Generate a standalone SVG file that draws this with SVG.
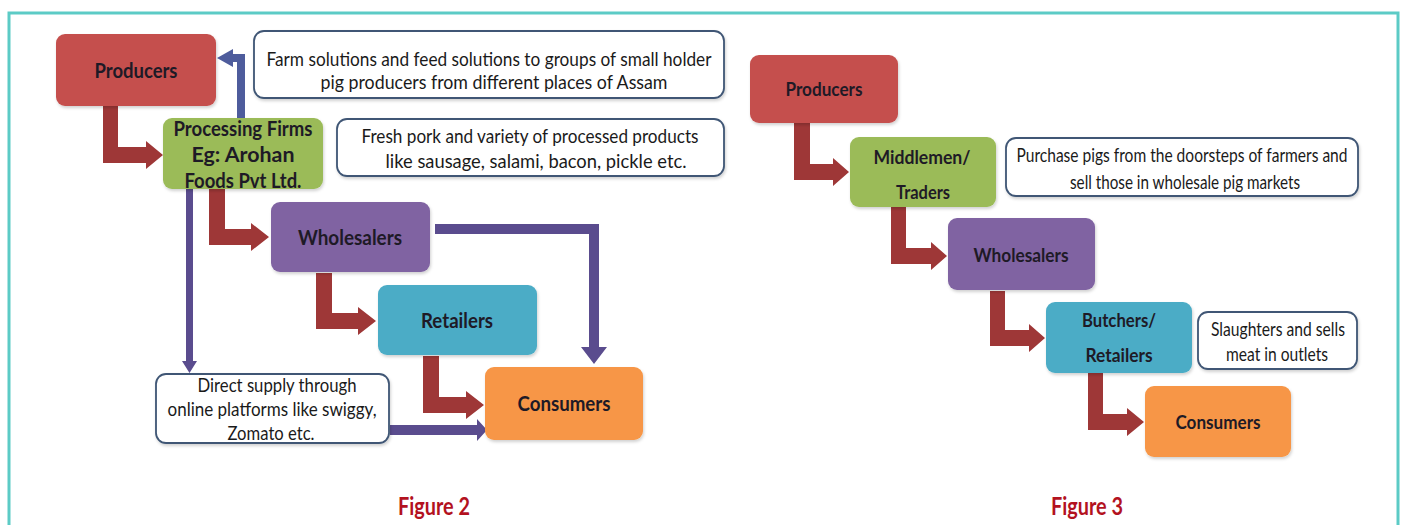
<svg xmlns="http://www.w3.org/2000/svg" width="1405" height="525" viewBox="0 0 1405 525">
<defs>
<style>
.lbl{font-family:Lato,"Open Sans","Liberation Sans",sans-serif;font-weight:bold;fill:#1e1a26;text-anchor:middle}
.l2{font-size:21px}
.l3{font-size:19px}
.call{fill:#ffffff;stroke:#3f5675;stroke-width:1.8}
.ct{font-family:Lato,"Open Sans","Liberation Sans",sans-serif;font-size:19px;fill:#1a1a1a;text-anchor:middle}
.red{fill:#9e3737}
.blu{fill:#5a4c8e}
.blu2{fill:#4e5c9c}
.fig{font-family:Lato,"Open Sans","Liberation Sans",sans-serif;font-size:24px;font-weight:bold;fill:#b3121f;text-anchor:middle}
.shadow{filter:url(#sh)}
</style>
<filter id="sh" x="-10%" y="-10%" width="130%" height="140%">
<feDropShadow dx="1" dy="2" stdDeviation="1.5" flood-color="#000" flood-opacity="0.18"/>
</filter>
</defs>
<rect x="0" y="0" width="1405" height="525" fill="#ffffff"/>
<rect x="9" y="13" width="1389" height="540" fill="none" stroke="#5ccbc6" stroke-width="3"/>

<g id="connectors">
<path class="red" d="M103,106 H118 V147 H146 V141 L163,155 L146,169 V163 H103 Z"/>
<path class="red" d="M209,189 H225 V229 H251 V223 L269,237 L251,251 V245 H209 Z"/>
<path class="red" d="M316,273 H332 V313 H358 V307 L376,321 L358,335 V329 H316 Z"/>
<path class="red" d="M423,356 H439 V397 H466 V391 L484,405 L466,419 V413 H423 Z"/>
<path class="blu2" d="M237,118 V62 H233 V67 L217,58 L233,49 V54 H245 V118 Z"/>
<path class="blu" d="M435,224 H599 V347 H607 L594,364 L581,347 H589 V234 H435 Z"/>
<path class="blu" d="M186,189 H193 V361 H197 L189.5,373 L182,361 H186 Z"/>
<path class="blu" d="M390,425 H477 V419 L487,430 L477,441 V435 H390 Z"/>
<path class="red" d="M794,123 H810 V164 H833 V158 L849,172 L833,186 V180 H794 Z"/>
<path class="red" d="M891,207 H906 V248 H931 V242 L947,256 L931,270 V264 H891 Z"/>
<path class="red" d="M990,291 H1005 V330 H1029 V324 L1045,338 L1029,352 V346 H990 Z"/>
<path class="red" d="M1088,373 H1103 V414 H1127 V408 L1144,422 L1127,436 V430 H1088 Z"/>
</g>

<g id="f2-producers"><rect class="shadow" x="56" y="34" width="160" height="72" rx="9" fill="#c5504d"/>
<text class="lbl l2" x="136" y="78" textLength="83" lengthAdjust="spacingAndGlyphs">Producers</text></g>
<g id="f2-processing"><rect class="shadow" x="163" y="118" width="160" height="71" rx="9" fill="#9bbb59"/>
<text class="lbl l2" x="243" y="136" textLength="139" lengthAdjust="spacingAndGlyphs">Processing Firms</text>
<text class="lbl l2" x="243" y="162" textLength="103" lengthAdjust="spacingAndGlyphs">Eg: Arohan</text>
<text class="lbl l2" x="243" y="188" textLength="117" lengthAdjust="spacingAndGlyphs">Foods Pvt Ltd.</text></g>
<g id="f2-wholesalers"><rect class="shadow" x="271" y="202" width="159" height="70" rx="9" fill="#8064a2"/>
<text class="lbl l2" x="350" y="245" textLength="104" lengthAdjust="spacingAndGlyphs">Wholesalers</text></g>
<g id="f2-retailers"><rect class="shadow" x="378" y="285" width="159" height="70" rx="9" fill="#4bacc6"/>
<text class="lbl l2" x="457" y="328" textLength="72" lengthAdjust="spacingAndGlyphs">Retailers</text></g>
<g id="f2-consumers"><rect class="shadow" x="485" y="367" width="158" height="73" rx="9" fill="#f79646"/>
<text class="lbl l2" x="564" y="411" textLength="93" lengthAdjust="spacingAndGlyphs">Consumers</text></g>
<g id="f2-note-farm"><rect class="call shadow" x="254" y="31" width="470" height="67" rx="10"/>
<text class="ct" x="489" y="66" textLength="445" lengthAdjust="spacingAndGlyphs">Farm solutions and feed solutions to groups of small holder</text>
<text class="ct" x="494" y="89" textLength="347" lengthAdjust="spacingAndGlyphs">pig producers from different places of Assam</text></g>
<g id="f2-note-pork"><rect class="call shadow" x="337" y="119" width="387" height="57" rx="10"/>
<text class="ct" x="530" y="143" textLength="337" lengthAdjust="spacingAndGlyphs">Fresh pork and variety of processed products</text>
<text class="ct" x="536" y="168" textLength="301" lengthAdjust="spacingAndGlyphs">like sausage, salami, bacon, pickle etc.</text></g>
<g id="f2-note-direct"><rect class="call shadow" x="156" y="374" width="233" height="69" rx="10"/>
<text class="ct" x="277" y="392" textLength="159" lengthAdjust="spacingAndGlyphs">Direct supply through</text>
<text class="ct" x="272" y="416" textLength="209" lengthAdjust="spacingAndGlyphs">online platforms like swiggy,</text>
<text class="ct" x="271" y="440" textLength="87" lengthAdjust="spacingAndGlyphs">Zomato etc.</text></g>
<text class="fig" x="434" y="515" textLength="72" lengthAdjust="spacingAndGlyphs">Figure 2</text>

<g id="f3-producers"><rect class="shadow" x="750" y="55" width="148" height="68" rx="9" fill="#c5504d"/>
<text class="lbl l3" x="824" y="96" textLength="77" lengthAdjust="spacingAndGlyphs">Producers</text></g>
<g id="f3-middlemen"><rect class="shadow" x="850" y="137" width="146" height="70" rx="9" fill="#9bbb59"/>
<text class="lbl l3" x="922" y="164" textLength="97" lengthAdjust="spacingAndGlyphs">Middlemen/</text>
<text class="lbl l3" x="923" y="199" textLength="54" lengthAdjust="spacingAndGlyphs">Traders</text></g>
<g id="f3-wholesalers"><rect class="shadow" x="948" y="218" width="147" height="72" rx="9" fill="#8064a2"/>
<text class="lbl l3" x="1021" y="262" textLength="95" lengthAdjust="spacingAndGlyphs">Wholesalers</text></g>
<g id="f3-butchers"><rect class="shadow" x="1046" y="302" width="146" height="71" rx="9" fill="#4bacc6"/>
<text class="lbl l3" x="1119" y="327" textLength="74" lengthAdjust="spacingAndGlyphs">Butchers/</text>
<text class="lbl l3" x="1119" y="362" textLength="67" lengthAdjust="spacingAndGlyphs">Retailers</text></g>
<g id="f3-consumers"><rect class="shadow" x="1145" y="386" width="146" height="71" rx="9" fill="#f79646"/>
<text class="lbl l3" x="1218" y="429" textLength="85" lengthAdjust="spacingAndGlyphs">Consumers</text></g>
<g id="f3-note-purchase"><rect class="call shadow" x="1006" y="138" width="352" height="58" rx="10"/>
<text class="ct" x="1182" y="162" textLength="331" lengthAdjust="spacingAndGlyphs">Purchase pigs from the doorsteps of farmers and</text>
<text class="ct" x="1185" y="189" textLength="230" lengthAdjust="spacingAndGlyphs">sell those in wholesale pig markets</text></g>
<g id="f3-note-slaughter"><rect class="call shadow" x="1198" y="312" width="159" height="57" rx="10"/>
<text class="ct" x="1278" y="336" textLength="134" lengthAdjust="spacingAndGlyphs">Slaughters and sells</text>
<text class="ct" x="1277" y="361" textLength="102" lengthAdjust="spacingAndGlyphs">meat in outlets</text></g>
<text class="fig" x="1087" y="515" textLength="72" lengthAdjust="spacingAndGlyphs">Figure 3</text>
</svg>
